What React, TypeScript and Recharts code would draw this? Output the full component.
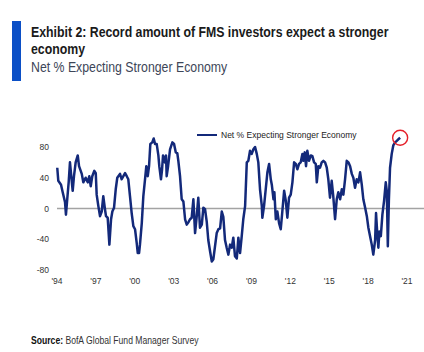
import React from 'react';
import { LineChart, Line, XAxis, YAxis, ReferenceLine, ReferenceDot, Legend } from 'recharts';

const seriesName = 'Net % Expecting Stronger Economy';

const years: number[] = [
  1994.02, 1994.10, 1994.31, 1994.44, 1994.62, 1994.69, 1994.79, 1994.90, 1995.00, 1995.10,
  1995.21, 1995.31, 1995.44, 1995.60, 1995.70, 1995.91, 1996.03, 1996.21, 1996.37, 1996.49,
  1996.60, 1996.72, 1996.88, 1996.99, 1997.06, 1997.19, 1997.32, 1997.45, 1997.57, 1997.70,
  1997.78, 1997.91, 1998.04, 1998.17, 1998.27, 1998.40, 1998.53, 1998.65, 1998.86, 1998.99,
  1999.12, 1999.25, 1999.38, 1999.50, 1999.63, 1999.76, 1999.89, 2000.02, 2000.15, 2000.23,
  2000.33, 2000.40, 2000.54, 2000.66, 2000.79, 2000.89, 2001.00, 2001.10, 2001.20, 2001.35,
  2001.46, 2001.56, 2001.69, 2001.82, 2001.89, 2002.02, 2002.10, 2002.18, 2002.33, 2002.41,
  2002.46, 2002.57, 2002.72, 2002.90, 2003.03, 2003.16, 2003.28, 2003.36, 2003.49, 2003.62,
  2003.75, 2003.88, 2004.01, 2004.13, 2004.26, 2004.39, 2004.52, 2004.65, 2004.78, 2004.90,
  2005.03, 2005.17, 2005.29, 2005.42, 2005.55, 2005.67, 2005.81, 2005.94, 2006.06, 2006.32,
  2006.45, 2006.58, 2006.71, 2006.83, 2006.96, 2007.09, 2007.22, 2007.35, 2007.48, 2007.60,
  2007.73, 2007.87, 2007.99, 2008.12, 2008.25, 2008.37, 2008.51, 2008.64, 2008.76, 2008.89,
  2009.02, 2009.15, 2009.28, 2009.41, 2009.53, 2009.66, 2009.80, 2009.84, 2009.97, 2010.10,
  2010.23, 2010.36, 2010.49, 2010.57, 2010.70, 2010.77, 2010.88, 2011.00, 2011.13, 2011.26,
  2011.38, 2011.52, 2011.65, 2011.77, 2011.90, 2012.03, 2012.16, 2012.29, 2012.42, 2012.54,
  2012.67, 2012.80, 2012.93, 2013.00, 2013.11, 2013.21, 2013.31, 2013.44, 2013.58, 2013.70,
  2013.83, 2013.96, 2014.04, 2014.16, 2014.29, 2014.42, 2014.55, 2014.68, 2014.81, 2014.93,
  2015.06, 2015.19, 2015.31, 2015.45, 2015.58, 2015.70, 2015.84, 2015.97, 2016.09, 2016.22,
  2016.35, 2016.48, 2016.61, 2016.74, 2016.86, 2016.99, 2017.12, 2017.25, 2017.38, 2017.51,
  2017.63, 2017.77, 2017.90, 2018.02, 2018.15, 2018.28, 2018.40, 2018.54, 2018.61, 2018.71,
  2018.79, 2018.87, 2018.98, 2019.10, 2019.23, 2019.36, 2019.44, 2019.52, 2019.60, 2019.69,
  2019.82, 2019.94, 2020.08, 2020.21, 2020.33, 2020.47,
];

const values: number[] = [
  53, 36, 31, 21, 8, -8, 12, 34, 60, 42,
  23, 42, 60, 69, 55, 45, 34, 40, 34, 42,
  29, 42, 49, 46, 18, 3, -10, -4, 16, -1,
  -10, -12, -47, -14, -4, 1, 25, 40, 45, 38,
  42, 46, 42, 38, 16, -6, -23, -27, -45, -58,
  -58, -47, -19, 16, 38, 55, 42, 55, 84, 86,
  91, 84, 84, 69, 55, 38, 50, 69, 60, 69,
  42, 55, 77, 86, 84, 73, 72, 62, 42, 12,
  9, -14, -21, -18, -14, -12, 12, -32, -10, 14,
  -25, -21, 1, -1, -17, -41, -56, -69, -66, -32,
  -27, -26, -4, -11, -41, -51, -60, -47, -51, -38,
  -62, -65, -38, -58, -36, -14, 3, 60, 62, 75,
  71, 77, 80, 71, 60, 25, 3, -12, 3, 25,
  47, 58, 38, 31, 12, 21, -14, -4, -19, -27,
  -4, 23, 10, -12, 14, 18, 34, 60, 58, 51,
  58, 60, 71, 62, 73, 55, 75, 62, 69, 68,
  60, 58, 34, 55, 53, 60, 62, 60, 53, 38,
  14, 36, 16, -14, 12, 21, 12, 25, 18, 38,
  62, 60, 55, 45, 40, 27, 38, 34, 47, 31,
  12, 1, -10, -25, -36, -47, -60, -41, -6, -34,
  -51, -30, -36, -8, 10, 34, 23, -49, 10, 53,
  71, 82, 86, 88, 90, 92,
];

const xTicks: number[] = [1994, 1997, 2000, 2003, 2006, 2009, 2012, 2015, 2018, 2021];
const yTicks: number[] = [-80, -40, 0, 40, 80];

const data = years.map((year, i) => ({ year, value: values[i] }));
const lastPoint = data[data.length - 1];

const NAVY = '#13297a';
const SANS = "'Liberation Sans', Arial, sans-serif";

const narrow = (extra: React.CSSProperties): React.CSSProperties => ({
  position: 'absolute',
  fontFamily: SANS,
  whiteSpace: 'nowrap',
  transform: 'scaleX(0.82)',
  transformOrigin: 'left top',
  ...extra,
});

const LegendContent = () => (
  <div style={{ display: 'flex', alignItems: 'center', fontFamily: SANS, fontSize: 8.5, color: '#222', whiteSpace: 'nowrap', lineHeight: '10px' }}>
    <svg width={20} height={4} style={{ display: 'block' }}>
      <line x1={0} y1={2} x2={20} y2={2} stroke={NAVY} strokeWidth={2} />
    </svg>
    <span style={{ marginLeft: 4 }}>{seriesName}</span>
  </div>
);

export default function App() {
  return (
    <div style={{ position: 'fixed', top: 0, left: 0, width: 424, height: 352, background: '#fff', overflow: 'hidden' }}>
      <div style={{ position: 'absolute', left: 12, top: 21, width: 8.5, height: 60, background: '#0b4fc6' }} />
      <div style={narrow({ left: 31, top: 22.6, fontSize: 15, lineHeight: '17px', fontWeight: 700, color: '#1a1a1a' })}>
        Exhibit 2: Record amount of FMS investors expect a stronger<br />economy
      </div>
      <div style={narrow({ left: 31, top: 57.6, fontSize: 15, lineHeight: '17px', color: '#3d4658' })}>
        Net % Expecting Stronger Economy
      </div>
      <div style={narrow({ left: 31, top: 334, fontSize: 10.5, lineHeight: '13px', color: '#333' })}>
        <b style={{ color: '#111' }}>Source:</b> BofA Global Fund Manager Survey
      </div>
      <div style={{ position: 'absolute', left: 0, top: 0 }}>
        <LineChart width={424} height={352} data={data} margin={{ top: 131.6, right: 0, bottom: 52, left: 17 }}>
          <XAxis
            dataKey="year"
            type="number"
            domain={[1994, 2022.31]}
            ticks={xTicks}
            tickFormatter={(v: number) => "'" + String(v).slice(2)}
            axisLine={false}
            tickLine={false}
            height={30}
            tick={{ fontFamily: SANS, fontSize: 8.5, fill: '#333' }}
            interval={0}
          />
          <YAxis
            type="number"
            domain={[-80, 100]}
            ticks={yTicks}
            axisLine={false}
            tickLine={false}
            width={40}
            tick={{ fontFamily: SANS, fontSize: 8.5, fill: '#333' }}
            interval={0}
          />
          <ReferenceLine y={0} stroke="#a3a3a3" strokeWidth={1.5} />
          <Legend
            layout="horizontal"
            verticalAlign="middle"
            align="center"
            content={LegendContent}
            wrapperStyle={{ top: 130, left: 197, width: 'auto' }}
          />
          <Line
            type="linear"
            dataKey="value"
            name={seriesName}
            stroke={NAVY}
            strokeWidth={2.5}
            strokeLinejoin="round"
            dot={false}
            isAnimationActive={false}
          />
          <ReferenceDot x={lastPoint.year} y={lastPoint.value} r={7.5} fill="none" stroke="#e5202a" strokeWidth={1.4} />
        </LineChart>
      </div>
    </div>
  );
}
